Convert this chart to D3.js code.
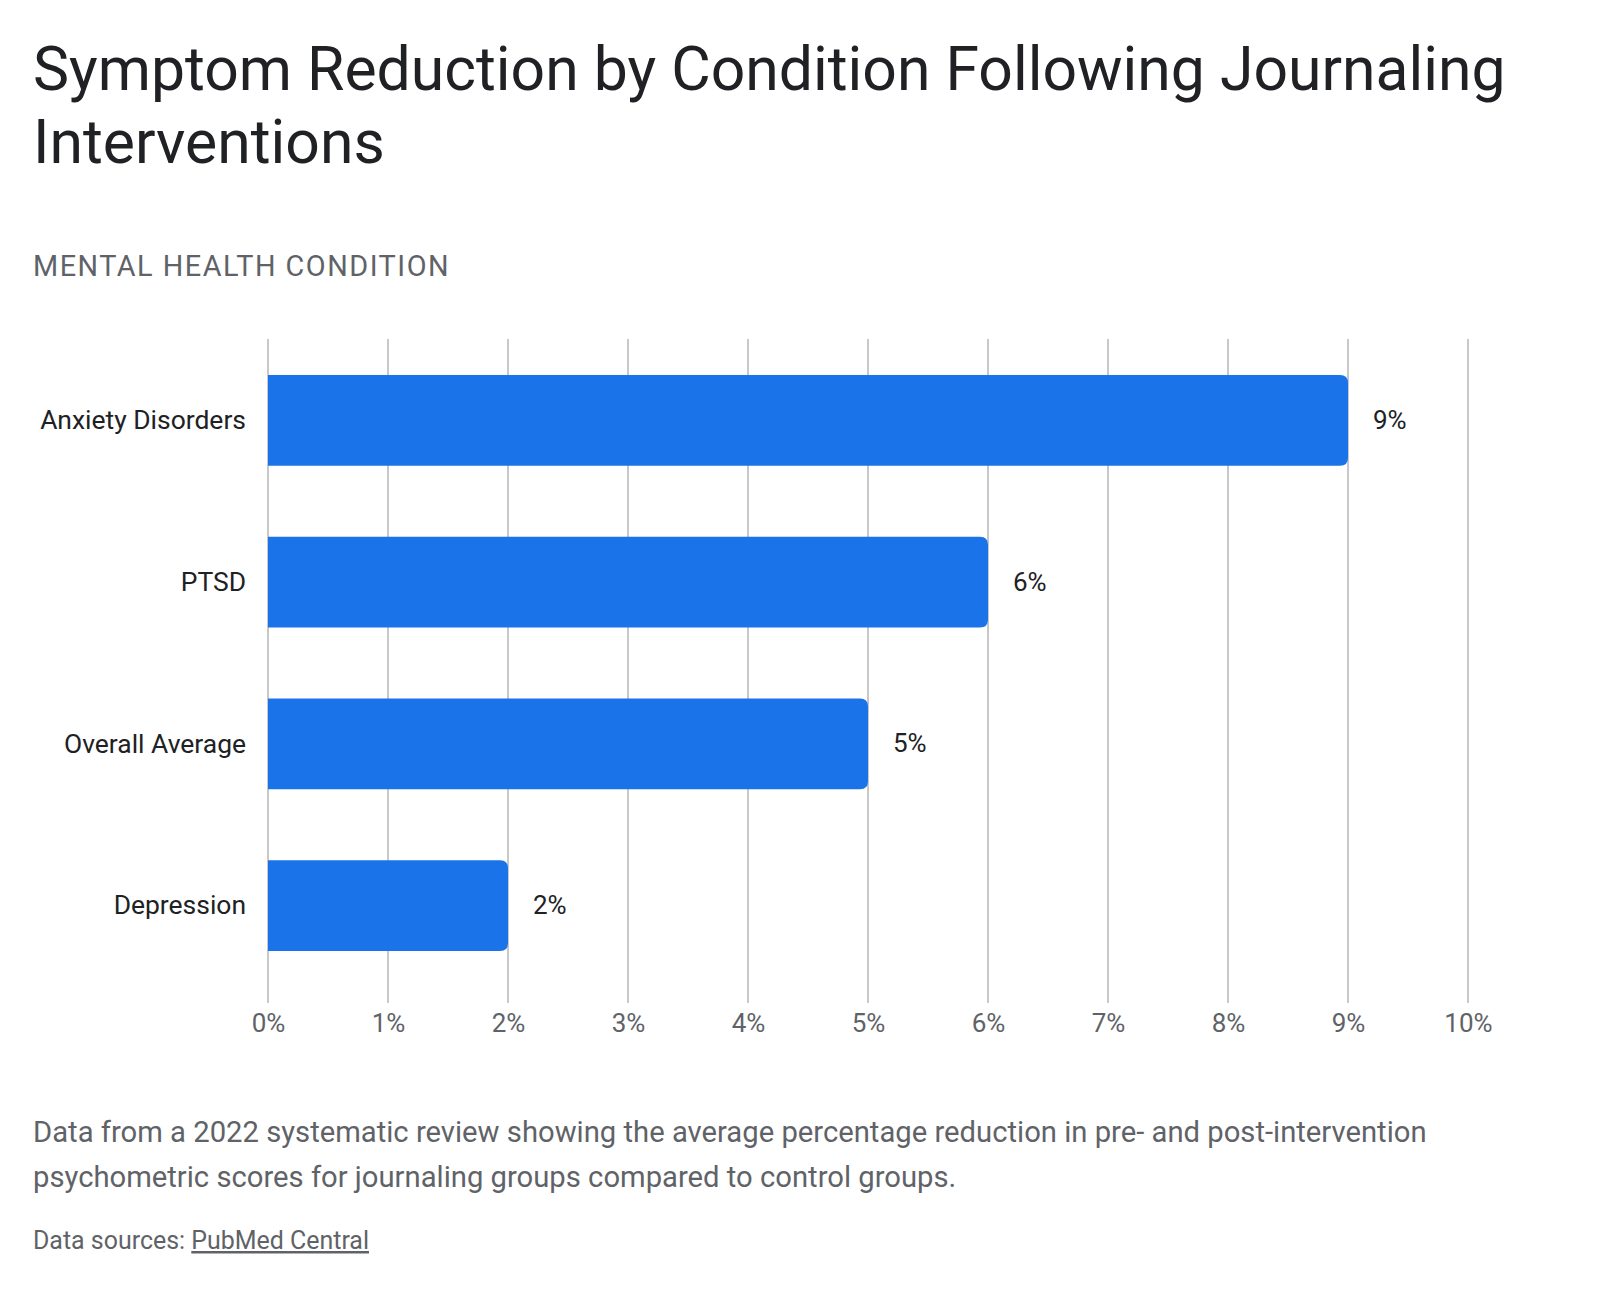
<!DOCTYPE html>
<html>
<head>
<meta charset="utf-8">
<script src="https://cdn.jsdelivr.net/npm/d3@7"></script>
<style>
  body { margin: 0; background: #fff; }
  text { font-family: "Google Sans", Roboto, "Noto Sans", sans-serif; }
</style>
</head>
<body>
<svg id="chart"></svg>
<script>
// data
const conditions = ["Anxiety Disorders", "PTSD", "Overall Average", "Depression"];
const reductions = [9, 6, 5, 2];
const tickValues = [0, 1, 2, 3, 4, 5, 6, 7, 8, 9, 10];
const titleLines = ["Symptom Reduction by Condition Following Journaling", "Interventions"];
const noteLines = [
  "Data from a 2022 systematic review showing the average percentage reduction in pre- and post-intervention",
  "psychometric scores for journaling groups compared to control groups."
];

const config = {
  width: 1600,
  height: 1290,
  left: 268,
  right: 1468,
  gridTop: 339,
  gridBottom: 1003
};

const svg = d3.select("#chart")
  .attr("width", config.width)
  .attr("height", config.height);

// scale a text node's font so it spans the wanted width
function fitWidth(sel, target) {
  const w = sel.node().getComputedTextLength();
  const fs = parseFloat(sel.style("font-size"));
  const size = (fs * target / w).toFixed(2) + "px";
  sel.style("font-size", size);
  return size;
}

// title
const t1 = svg.append("text")
  .attr("x", 33).attr("y", 90)
  .attr("fill", "#202124")
  .style("font-size", "60px")
  .text(titleLines[0]);
fitWidth(t1, 1473);
svg.append("text")
  .attr("x", 33).attr("y", 163)
  .attr("fill", "#202124")
  .style("font-size", t1.style("font-size"))
  .text(titleLines[1]);

// y axis title
const yTitle = svg.append("text")
  .attr("x", 33).attr("y", 276)
  .attr("fill", "#5f6368")
  .style("font-size", "24px")
  .style("letter-spacing", "1.5px")
  .text("MENTAL HEALTH CONDITION");
fitWidth(yTitle, 424);

// scales
const xScale = d3.scaleLinear()
  .domain([0, 10])
  .range([config.left, config.right]);

const yScale = d3.scaleBand()
  .domain(conditions)
  .range([config.gridTop, 987])
  .paddingInner(0.44)
  .paddingOuter(0.223);

// vertical gridlines
svg.append("g")
  .selectAll("line")
  .data(tickValues)
  .join("line")
  .attr("x1", d => xScale(d))
  .attr("x2", d => xScale(d))
  .attr("y1", config.gridTop)
  .attr("y2", config.gridBottom)
  .attr("stroke", "#c8c8c8")
  .attr("stroke-width", 2);

// x axis labels
const xAxis = d3.axisBottom(xScale)
  .tickValues(tickValues)
  .tickSize(0)
  .tickPadding(0)
  .tickFormat(d => d + "%");

const xAxisG = svg.append("g")
  .attr("transform", `translate(0,${config.gridBottom})`)
  .call(xAxis);
xAxisG.select(".domain").remove();
xAxisG.selectAll("text")
  .attr("y", 29)
  .attr("dy", null)
  .attr("fill", "#5f6368")
  .style("font-size", "26px");

// bars, rounded on the right end only
const r = 8;
function barPath(d, i) {
  const x0 = xScale(0), x1 = xScale(d);
  const y0 = yScale(conditions[i]), h = yScale.bandwidth();
  return `M${x0},${y0}H${x1 - r}Q${x1},${y0} ${x1},${y0 + r}V${y0 + h - r}Q${x1},${y0 + h} ${x1 - r},${y0 + h}H${x0}Z`;
}

svg.append("g")
  .selectAll("path")
  .data(reductions)
  .join("path")
  .attr("d", barPath)
  .attr("fill", "#1a73e8");

// value labels
svg.append("g")
  .selectAll("text")
  .data(reductions)
  .join("text")
  .attr("x", d => xScale(d) + 25)
  .attr("y", (d, i) => yScale(conditions[i]) + yScale.bandwidth() / 2)
  .attr("dy", "0.33em")
  .attr("fill", "#202124")
  .style("font-size", "26px")
  .text(d => d + "%");

// category labels
const catLabels = svg.append("g")
  .selectAll("text")
  .data(conditions)
  .join("text")
  .attr("x", 246)
  .attr("y", d => yScale(d) + yScale.bandwidth() / 2)
  .attr("dy", "0.33em")
  .attr("text-anchor", "end")
  .attr("fill", "#202124")
  .style("font-size", "24px")
  .text(d => d);
const catSize = fitWidth(d3.select(catLabels.nodes()[0]), 206);
catLabels.style("font-size", catSize);

// footer note
const n1 = svg.append("text")
  .attr("x", 33).attr("y", 1142)
  .attr("fill", "#5f6368")
  .style("font-size", "26px")
  .text(noteLines[0]);
fitWidth(n1, 1394);
svg.append("text")
  .attr("x", 33).attr("y", 1187)
  .attr("fill", "#5f6368")
  .style("font-size", n1.style("font-size"))
  .text(noteLines[1]);

// source line
const src = svg.append("text")
  .attr("x", 33).attr("y", 1249)
  .attr("fill", "#5f6368")
  .style("font-size", "22px");
src.append("tspan").text("Data sources: ");
src.append("tspan").style("text-decoration", "underline").text("PubMed Central");
fitWidth(src, 336);
</script>
</body>
</html>
